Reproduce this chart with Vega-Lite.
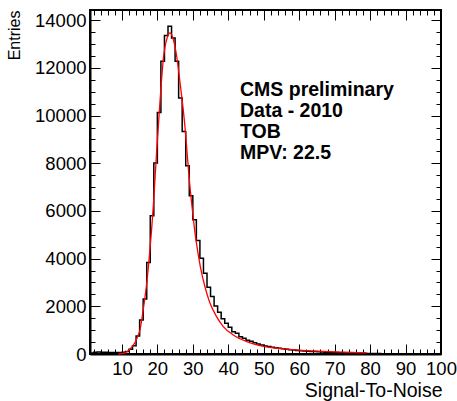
{
  "$schema": "https://vega.github.io/schema/vega-lite/v6.json",
  "width": 351,
  "height": 344,
  "autosize": {"type": "none"},
  "padding": {"left": 90, "top": 10, "right": 16, "bottom": 47},
  "background": "white",
  "config": {
    "view": {"stroke": "black", "strokeWidth": 2},
    "axis": {
      "grid": false,
      "labelFont": "Liberation Sans",
      "titleFont": "Liberation Sans",
      "labelFontSize": 18.5,
      "titleFontSize": 18,
      "labelColor": "black",
      "titleColor": "black",
      "titleFontWeight": "normal",
      "tickColor": "black",
      "domainColor": "black",
      "tickWidth": 1
    }
  },
  "datasets": {
    "hist": [
      {"lo": 1, "hi": 2, "n": 40}, {"lo": 2, "hi": 3, "n": 70}, {"lo": 3, "hi": 4, "n": 80},
      {"lo": 4, "hi": 5, "n": 70}, {"lo": 5, "hi": 6, "n": 70}, {"lo": 6, "hi": 7, "n": 60},
      {"lo": 7, "hi": 8, "n": 60}, {"lo": 8, "hi": 9, "n": 60}, {"lo": 9, "hi": 10, "n": 60},
      {"lo": 10, "hi": 11, "n": 70}, {"lo": 11, "hi": 12, "n": 110}, {"lo": 12, "hi": 13, "n": 200},
      {"lo": 13, "hi": 14, "n": 350}, {"lo": 14, "hi": 15, "n": 756}, {"lo": 15, "hi": 16, "n": 1428},
      {"lo": 16, "hi": 17, "n": 2310}, {"lo": 17, "hi": 18, "n": 3835}, {"lo": 18, "hi": 19, "n": 5796},
      {"lo": 19, "hi": 20, "n": 8009}, {"lo": 20, "hi": 21, "n": 10130}, {"lo": 21, "hi": 22, "n": 12277},
      {"lo": 22, "hi": 23, "n": 13356}, {"lo": 23, "hi": 24, "n": 13747}, {"lo": 24, "hi": 25, "n": 13259},
      {"lo": 25, "hi": 26, "n": 12277}, {"lo": 26, "hi": 27, "n": 10739}, {"lo": 27, "hi": 28, "n": 9337},
      {"lo": 28, "hi": 29, "n": 7896}, {"lo": 29, "hi": 30, "n": 6636}, {"lo": 30, "hi": 31, "n": 5628},
      {"lo": 31, "hi": 32, "n": 4759}, {"lo": 32, "hi": 33, "n": 4019}, {"lo": 33, "hi": 34, "n": 3389},
      {"lo": 34, "hi": 35, "n": 2801}, {"lo": 35, "hi": 36, "n": 2407}, {"lo": 36, "hi": 37, "n": 2016},
      {"lo": 37, "hi": 38, "n": 1750}, {"lo": 38, "hi": 39, "n": 1483}, {"lo": 39, "hi": 40, "n": 1289},
      {"lo": 40, "hi": 41, "n": 1121}, {"lo": 41, "hi": 42, "n": 937}, {"lo": 42, "hi": 43, "n": 869},
      {"lo": 43, "hi": 44, "n": 727}, {"lo": 44, "hi": 45, "n": 659}, {"lo": 45, "hi": 46, "n": 580},
      {"lo": 46, "hi": 47, "n": 530}, {"lo": 47, "hi": 48, "n": 475}, {"lo": 48, "hi": 49, "n": 420},
      {"lo": 49, "hi": 50, "n": 380}, {"lo": 50, "hi": 51, "n": 340}, {"lo": 51, "hi": 52, "n": 310},
      {"lo": 52, "hi": 53, "n": 285}, {"lo": 53, "hi": 54, "n": 260}, {"lo": 54, "hi": 55, "n": 240},
      {"lo": 55, "hi": 56, "n": 220}, {"lo": 56, "hi": 57, "n": 200}, {"lo": 57, "hi": 58, "n": 180},
      {"lo": 58, "hi": 59, "n": 165}, {"lo": 59, "hi": 60, "n": 150}, {"lo": 60, "hi": 61, "n": 138},
      {"lo": 61, "hi": 62, "n": 127}, {"lo": 62, "hi": 63, "n": 117}, {"lo": 63, "hi": 64, "n": 108},
      {"lo": 64, "hi": 65, "n": 100}, {"lo": 65, "hi": 66, "n": 92}, {"lo": 66, "hi": 67, "n": 85},
      {"lo": 67, "hi": 68, "n": 78}, {"lo": 68, "hi": 69, "n": 72}, {"lo": 69, "hi": 70, "n": 66},
      {"lo": 70, "hi": 71, "n": 60}, {"lo": 71, "hi": 72, "n": 55}, {"lo": 72, "hi": 73, "n": 50},
      {"lo": 73, "hi": 74, "n": 45}, {"lo": 74, "hi": 75, "n": 41}, {"lo": 75, "hi": 76, "n": 37},
      {"lo": 76, "hi": 77, "n": 33}, {"lo": 77, "hi": 78, "n": 30}, {"lo": 78, "hi": 79, "n": 27},
      {"lo": 79, "hi": 80, "n": 24}, {"lo": 80, "hi": 81, "n": 21}, {"lo": 81, "hi": 82, "n": 18},
      {"lo": 82, "hi": 83, "n": 16}, {"lo": 83, "hi": 84, "n": 14}, {"lo": 84, "hi": 85, "n": 12},
      {"lo": 85, "hi": 86, "n": 11}, {"lo": 86, "hi": 87, "n": 10}, {"lo": 87, "hi": 88, "n": 9},
      {"lo": 88, "hi": 89, "n": 8}, {"lo": 89, "hi": 90, "n": 7}, {"lo": 90, "hi": 91, "n": 6},
      {"lo": 91, "hi": 92, "n": 6}, {"lo": 92, "hi": 93, "n": 5}, {"lo": 93, "hi": 94, "n": 5},
      {"lo": 94, "hi": 95, "n": 4}, {"lo": 95, "hi": 96, "n": 4}, {"lo": 96, "hi": 97, "n": 4},
      {"lo": 97, "hi": 98, "n": 3}, {"lo": 98, "hi": 99, "n": 3}, {"lo": 99, "hi": 100, "n": 3}
    ],
    "fit": [
      {"x": 9, "y": 0}, {"x": 10, "y": 15}, {"x": 11, "y": 60}, {"x": 11.8, "y": 140},
      {"x": 12.7, "y": 280}, {"x": 13.7, "y": 480}, {"x": 14.5, "y": 750}, {"x": 15.1, "y": 1010},
      {"x": 16.0, "y": 1850}, {"x": 17.0, "y": 2970}, {"x": 17.9, "y": 4370}, {"x": 18.85, "y": 6190},
      {"x": 19.8, "y": 8500}, {"x": 20.7, "y": 10500}, {"x": 21.7, "y": 12400}, {"x": 22.8, "y": 13280},
      {"x": 23.6, "y": 13470}, {"x": 24.5, "y": 13190}, {"x": 25.45, "y": 12490}, {"x": 26.4, "y": 11370},
      {"x": 27.8, "y": 9500}, {"x": 28.3, "y": 8600}, {"x": 29.2, "y": 7000}, {"x": 29.7, "y": 6300},
      {"x": 30.6, "y": 5100}, {"x": 31.5, "y": 4200}, {"x": 32.2, "y": 3600}, {"x": 33.4, "y": 2830},
      {"x": 34.8, "y": 2150}, {"x": 36.7, "y": 1570}, {"x": 38.6, "y": 1150}, {"x": 41.4, "y": 800},
      {"x": 45.2, "y": 520}, {"x": 50, "y": 320}, {"x": 55, "y": 225}, {"x": 60, "y": 160},
      {"x": 65, "y": 118}, {"x": 70, "y": 88}, {"x": 75, "y": 64}, {"x": 79, "y": 48}
    ]
  },
  "layer": [
    {
      "data": {"name": "hist"},
      "transform": [{"fold": ["lo", "hi"], "as": ["edge", "xpos"]}],
      "mark": {"type": "line", "color": "black", "strokeWidth": 1.5},
      "encoding": {
        "x": {
          "field": "xpos", "type": "quantitative",
          "scale": {"domain": [1, 100], "nice": false, "zero": false},
          "axis": {
            "orient": "bottom",
            "values": [10, 20, 30, 40, 50, 60, 70, 80, 90, 100],
            "tickSize": -10,
            "labelPadding": 30,
            "labelBaseline": "alphabetic",
            "labelFlush": false,
            "labelOverlap": false,
            "domain": true,
            "domainWidth": 2,
            "title": "Signal-To-Noise",
            "titleFontSize": 19.5,
            "titleX": 352,
            "titleY": 42.5,
            "titleAlign": "right",
            "titleBaseline": "alphabetic",
            "titleAngle": 0
          }
        },
        "y": {
          "field": "n", "type": "quantitative",
          "scale": {"domain": [0, 14430], "nice": false, "zero": false},
          "axis": {
            "orient": "left",
            "values": [0, 2000, 4000, 6000, 8000, 10000, 12000, 14000],
            "format": "d",
            "tickSize": -10,
            "labelPadding": 14,
            "labelBaseline": "middle",
            "labelFlush": false,
            "labelOverlap": false,
            "domain": true,
            "domainWidth": 2,
            "title": "Entries",
            "titleFontSize": 16,
            "titleX": -70.7,
            "titleY": 0,
            "titleAngle": -90,
            "titleAlign": "right",
            "titleBaseline": "alphabetic"
          }
        },
        "order": [{"field": "lo"}, {"field": "xpos"}]
      }
    },
    {
      "data": {"name": "fit"},
      "mark": {"type": "line", "color": "#ff0000", "strokeWidth": 1.3, "interpolate": "monotone"},
      "encoding": {
        "x": {
          "field": "x", "type": "quantitative",
          "axis": {
            "orient": "bottom",
            "values": [2, 4, 6, 8, 12, 14, 16, 18, 22, 24, 26, 28, 32, 34, 36, 38, 42, 44, 46, 48, 52, 54, 56, 58, 62, 64, 66, 68, 72, 74, 76, 78, 82, 84, 86, 88, 92, 94, 96, 98],
            "tickSize": -5, "labels": false, "domain": false, "title": null
          }
        },
        "y": {
          "field": "y", "type": "quantitative",
          "axis": {
            "orient": "left",
            "values": [500, 1000, 1500, 2500, 3000, 3500, 4500, 5000, 5500, 6500, 7000, 7500, 8500, 9000, 9500, 10500, 11000, 11500, 12500, 13000, 13500],
            "tickSize": -5, "labels": false, "domain": false, "title": null
          }
        }
      }
    },
    {
      "data": {"name": "fit"},
      "mark": {"type": "point", "opacity": 0},
      "encoding": {
        "x": {
          "field": "x", "type": "quantitative",
          "axis": {
            "orient": "top",
            "values": [10, 20, 30, 40, 50, 60, 70, 80, 90, 100],
            "tickSize": -10, "labels": false, "domain": false, "title": null
          }
        },
        "y": {
          "field": "y", "type": "quantitative",
          "axis": {
            "orient": "right",
            "values": [0, 2000, 4000, 6000, 8000, 10000, 12000, 14000],
            "tickSize": -10, "labels": false, "domain": false, "title": null
          }
        }
      }
    },
    {
      "data": {"name": "fit"},
      "mark": {"type": "point", "opacity": 0},
      "encoding": {
        "x": {
          "field": "x", "type": "quantitative",
          "axis": {
            "orient": "top",
            "values": [2, 4, 6, 8, 12, 14, 16, 18, 22, 24, 26, 28, 32, 34, 36, 38, 42, 44, 46, 48, 52, 54, 56, 58, 62, 64, 66, 68, 72, 74, 76, 78, 82, 84, 86, 88, 92, 94, 96, 98],
            "tickSize": -5, "labels": false, "domain": false, "title": null
          }
        },
        "y": {
          "field": "y", "type": "quantitative",
          "axis": {
            "orient": "right",
            "values": [500, 1000, 1500, 2500, 3000, 3500, 4500, 5000, 5500, 6500, 7000, 7500, 8500, 9000, 9500, 10500, 11000, 11500, 12500, 13000, 13500],
            "tickSize": -5, "labels": false, "domain": false, "title": null
          }
        }
      }
    },
    {
      "data": {"values": [{}]},
      "mark": {
        "type": "text",
        "text": ["CMS preliminary", "Data - 2010", "TOB", "MPV: 22.5"],
        "font": "Liberation Sans",
        "fontWeight": "bold",
        "fontSize": 19.5,
        "align": "left",
        "baseline": "alphabetic",
        "lineHeight": 21,
        "color": "black"
      },
      "encoding": {
        "x": {"datum": 43.3, "type": "quantitative", "axis": null},
        "y": {"datum": 10807, "type": "quantitative", "axis": null}
      }
    }
  ],
  "resolve": {"axis": {"x": "independent", "y": "independent"}}
}
